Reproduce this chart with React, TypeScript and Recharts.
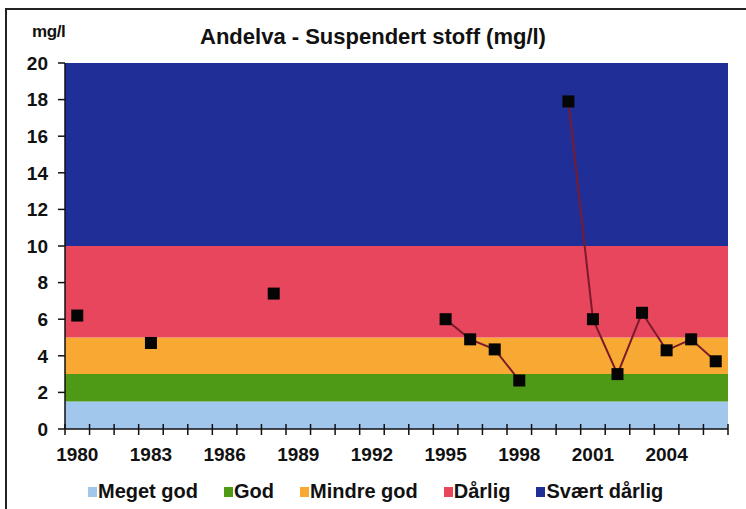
import React from 'react';
import {
  LineChart, Line, XAxis, YAxis, ReferenceArea,
} from 'recharts';

const YEARS = [
  1980, 1981, 1982, 1983, 1984, 1985, 1986, 1987, 1988, 1989,
  1990, 1991, 1992, 1993, 1994, 1995, 1996, 1997, 1998, 1999,
  2000, 2001, 2002, 2003, 2004, 2005, 2006,
];
const SUSPENDED = [
  6.2, null, null, 4.7, null, null, null, null, 7.4, null,
  null, null, null, null, null, 6.0, 4.9, 4.35, 2.65, null,
  17.9, 6.0, 3.0, 6.35, 4.3, 4.9, 3.7,
];
const LABEL_YEARS = [1980, 1983, 1986, 1989, 1992, 1995, 1998, 2001, 2004];
const Y_TICKS = [0, 2, 4, 6, 8, 10, 12, 14, 16, 18, 20];

const BAND_NAMES = ['Meget god', 'God', 'Mindre god', 'Dårlig', 'Svært dårlig'];
const BAND_LIMITS = [0, 1.5, 3, 5, 10, 20];
const BAND_COLORS = ['#a2c7ed', '#4e9a16', '#f8a933', '#e8465d', '#202f97'];

const FONT = '"Liberation Sans", Arial, sans-serif';
const CHART_W = 746;
const CHART_H = 509;
const MARGIN = { top: 63, right: 18, left: 0, bottom: 0 };
const Y_AXIS_W = 65;

const data = YEARS.map((year, i) => ({ year, value: SUSPENDED[i] }));
// tick marks sit between the yearly categories, labels in the middle of a category
const boundaries = [...YEARS.map((y) => y - 0.5), YEARS[YEARS.length - 1] + 0.5];
const halfCat = (CHART_W - Y_AXIS_W - MARGIN.right) / YEARS.length / 2;

function YearTick({ x, y, payload }: any) {
  const year = payload.value + 0.5;
  return (
    <g>
      <line x1={x} x2={x} y1={y - 5} y2={y + 6} stroke="#111" strokeWidth={1.5} />
      {LABEL_YEARS.includes(year) && (
        <text x={x + halfCat} y={y + 32} textAnchor="middle" fontSize={19} fontWeight="bold" fill="#111" fontFamily={FONT}>
          {year}
        </text>
      )}
    </g>
  );
}

function SquareDot({ cx, cy, index }: any) {
  if (cx == null || cy == null) return <g key={index} />;
  return <rect key={index} x={cx - 6} y={cy - 6} width={12} height={12} fill="#050505" />;
}

export default function App() {
  return (
    <div style={{ position: 'absolute', left: 0, top: 0, width: CHART_W, height: CHART_H, background: '#fff', fontFamily: FONT, overflow: 'hidden' }}>
      <div style={{ position: 'absolute', left: 5, top: 8, width: 760, height: 520, border: '2px solid #222', boxSizing: 'border-box' }} />
      <div style={{ position: 'absolute', left: 32, top: 22, fontSize: 17, fontWeight: 'bold', color: '#111', letterSpacing: -0.4 }}>mg/l</div>
      <div style={{ position: 'absolute', left: 0, width: CHART_W, top: 24, textAlign: 'center', fontSize: 22, fontWeight: 'bold', color: '#111' }}>
        Andelva - Suspendert stoff (mg/l)
      </div>

      <div style={{ position: 'absolute', left: 0, top: 0 }}>
        <LineChart width={CHART_W} height={CHART_H} data={data} margin={MARGIN}>
          {BAND_NAMES.map((name, i) => (
            <ReferenceArea
              key={name}
              y1={BAND_LIMITS[i]}
              y2={BAND_LIMITS[i + 1]}
              fill={BAND_COLORS[i]}
              fillOpacity={1}
              stroke="none"
            />
          ))}
          <XAxis
            type="number"
            dataKey="year"
            domain={[1979.5, 2006.5]}
            ticks={boundaries}
            interval={0}
            height={80}
            tickSize={0}
            tickMargin={0}
            tickLine={false}
            axisLine={{ stroke: '#111', strokeWidth: 1.5 }}
            tick={<YearTick />}
          />
          <YAxis
            type="number"
            domain={[0, 20]}
            ticks={Y_TICKS}
            interval={0}
            width={Y_AXIS_W}
            tickSize={7}
            tickMargin={10}
            axisLine={{ stroke: '#111', strokeWidth: 1.5 }}
            tickLine={{ stroke: '#111', strokeWidth: 1.5 }}
            tick={{ fontSize: 19, fontWeight: 'bold', fill: '#111', fontFamily: FONT }}
          />
          <Line
            type="linear"
            dataKey="value"
            stroke="#7a1a2a"
            strokeWidth={2}
            dot={(p: any) => <SquareDot {...p} />}
            activeDot={false}
            connectNulls={false}
            isAnimationActive={false}
          />
        </LineChart>
      </div>

      <div style={{ position: 'absolute', left: 88, top: 480, display: 'flex', gap: 26, fontSize: 20, fontWeight: 'bold', color: '#111', whiteSpace: 'nowrap' }}>
        {BAND_NAMES.map((name, i) => (
          <div key={name} style={{ display: 'flex', alignItems: 'center' }}>
            <span style={{ width: 9, height: 10, background: BAND_COLORS[i], display: 'inline-block', marginRight: 1 }} />
            <span>{name}</span>
          </div>
        ))}
      </div>
    </div>
  );
}
